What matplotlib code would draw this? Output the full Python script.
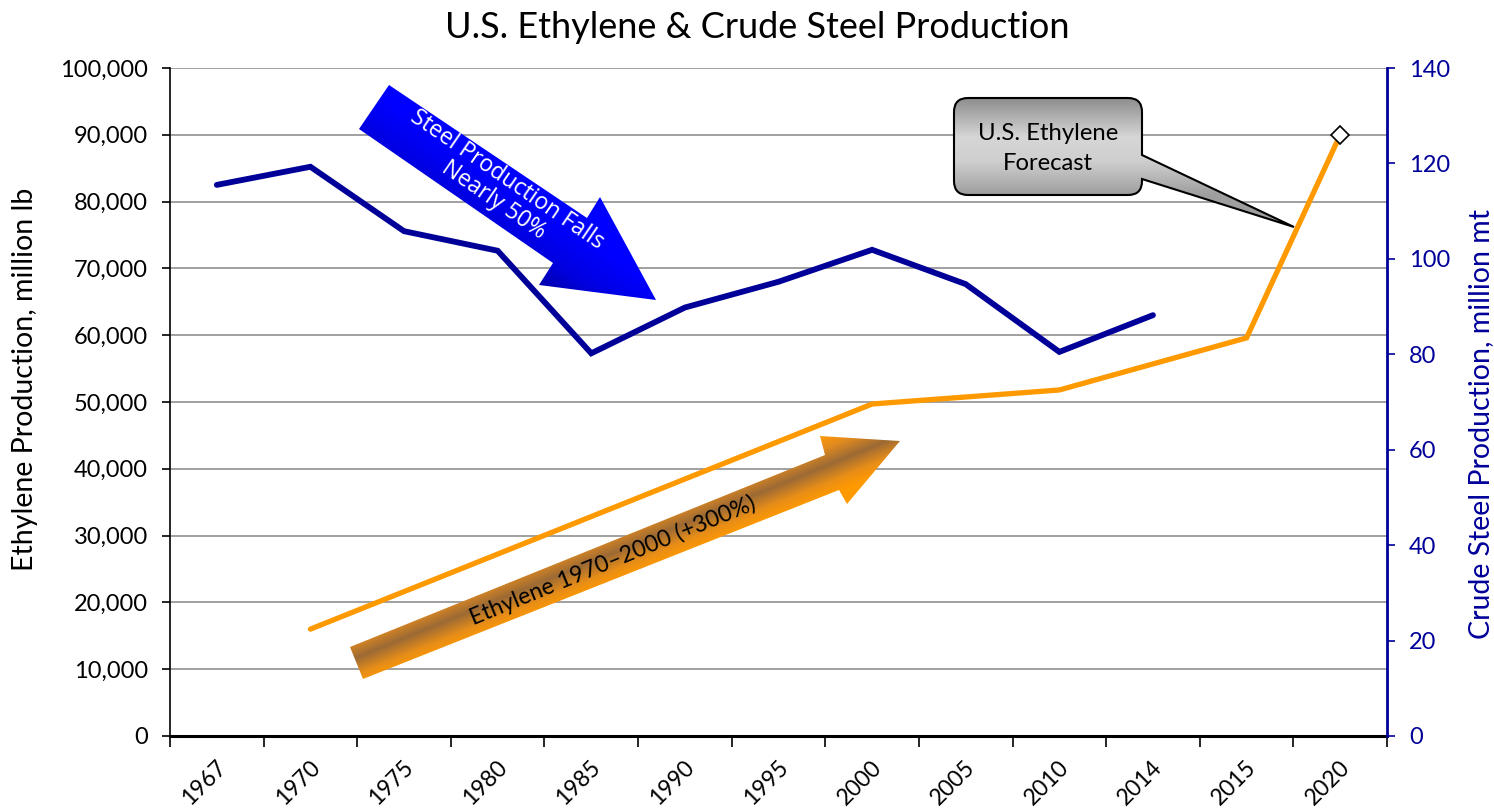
import numpy as np
import matplotlib
matplotlib.use("Agg")
import matplotlib.pyplot as plt
import matplotlib.transforms as mtransforms
from matplotlib.ticker import FuncFormatter, FixedLocator
from matplotlib.patches import Polygon, PathPatch
from matplotlib.path import Path
from matplotlib.colors import LinearSegmentedColormap

plt.rcParams['font.family'] = ['Lato', 'DejaVu Sans']

# ---------------- data ----------------
years = ['1967', '1970', '1975', '1980', '1985', '1990', '1995',
         '2000', '2005', '2010', '2014', '2015', '2020']
steel = [115.5, 119.3, 105.8, 101.7, 80.2, 89.8, 95.2,
         101.9, 94.7, 80.5, 88.2, np.nan, np.nan]          # million mt
ethylene = [np.nan, 16000, np.nan, np.nan, np.nan, np.nan, np.nan,
            49700, np.nan, 51800, np.nan, 59600, 90000]     # million lb
forecast_year = '2020'

NAVY = '#000099'
ORANGE = '#FF9900'

W, H = 1494, 808
fig = plt.figure(figsize=(W / 100, H / 100), dpi=100)
ax = fig.add_axes([170 / W, 1 - 736 / H, (1387 - 170) / W, (736 - 68) / H])
ax2 = ax.twinx()

x = np.arange(len(years))
eth = np.array(ethylene, dtype=float)
m = ~np.isnan(eth)
ax.plot(x[m], eth[m], color=ORANGE, lw=3.8, solid_capstyle='round',
        solid_joinstyle='miter', zorder=3)
fi = years.index(forecast_year)
ax.plot([x[fi]], [eth[fi]], marker='D', ms=9, mfc='white', mec='black',
        mew=1.2, zorder=4, linestyle='none')

st = np.array(steel, dtype=float)
ms = ~np.isnan(st)
ax2.plot(x[ms], st[ms], color=NAVY, lw=4.2, solid_capstyle='round',
         solid_joinstyle='miter', zorder=3)

# axes limits / ticks
ax.set_xlim(-0.5, len(years) - 0.5)
ax.set_ylim(0, 100000)
ax2.set_ylim(0, 140)
ax.set_yticks(np.arange(0, 100001, 10000))
ax.yaxis.set_major_formatter(FuncFormatter(lambda v, p: f"{int(v):,}"))
ax2.set_yticks(np.arange(0, 141, 20))

ax.xaxis.set_major_locator(FixedLocator(np.arange(-0.5, len(years), 1.0)))
ax.xaxis.set_minor_locator(FixedLocator(x))
ax.set_xticklabels([])
ax.set_xticklabels(years, minor=True)
ax.tick_params(axis='x', which='major', length=8, width=1.2, color='black')
ax.tick_params(axis='x', which='minor', length=0, pad=20, labelsize=16.5)
xoff = mtransforms.ScaledTranslation(6 / 100, 0, fig.dpi_scale_trans)
for lab in ax.get_xticklabels(minor=True):
    lab.set_rotation(45)
    lab.set_ha('right')
    lab.set_va('center')
    lab.set_rotation_mode('anchor')
    lab.set_transform(lab.get_transform() + xoff)

ax.tick_params(axis='y', length=6, width=1.2, labelsize=17, pad=10, color='black')
ax2.tick_params(axis='y', length=6, width=1.2, labelsize=17, pad=10,
                color=NAVY, labelcolor=NAVY)

ax.grid(axis='y', color='#999999', lw=1.3)
ax.set_axisbelow(True)
for s in ['top']:
    ax.spines[s].set_visible(False)
    ax2.spines[s].set_visible(False)
ax.spines['right'].set_visible(False)
ax2.spines['left'].set_visible(False)
ax2.spines['bottom'].set_visible(False)
ax.spines['left'].set_color('black')
ax.spines['left'].set_linewidth(1.2)
ax.spines['bottom'].set_color('black')
ax.spines['bottom'].set_linewidth(2.2)
ax2.spines['right'].set_color(NAVY)
ax2.spines['right'].set_linewidth(2.0)

ax.set_ylabel('Ethylene Production, million lb', fontsize=20.5)
ax2.set_ylabel('Crude Steel Production, million mt', fontsize=20.5, color=NAVY)
ax.yaxis.set_label_coords((38 - 170) / 1217, (736 - 379) / 668)
ax2.yaxis.set_label_coords((1468 - 170) / 1217, (736 - 424) / 668)
fig.text(757 / W, 1 - 27 / H, 'U.S. Ethylene & Crude Steel Production',
         ha='center', va='center', fontsize=26)

# ---------------- overlay annotations (pixel space) ----------------
ov = fig.add_axes([0, 0, 1, 1], zorder=10)
ov.set_xlim(0, W)
ov.set_ylim(H, 0)
ov.axis('off')
ov.patch.set_alpha(0)


def gradient_fill(path_or_verts, p0, p1, stops, zorder, edge=None, lw=0):
    if isinstance(path_or_verts, Path):
        patch = PathPatch(path_or_verts, facecolor='none',
                          edgecolor=edge if edge else 'none', lw=lw,
                          zorder=zorder + 0.1)
        verts = path_or_verts.vertices
    else:
        patch = Polygon(path_or_verts, closed=True, facecolor='none',
                        edgecolor=edge if edge else 'none', lw=lw,
                        zorder=zorder + 0.1)
        verts = np.array(path_or_verts)
    ov.add_patch(patch)
    x0, x1 = verts[:, 0].min() - 2, verts[:, 0].max() + 2
    y0, y1 = verts[:, 1].min() - 2, verts[:, 1].max() + 2
    nx, ny = int(x1 - x0) + 1, int(y1 - y0) + 1
    X, Y = np.meshgrid(np.linspace(x0, x1, nx), np.linspace(y0, y1, ny))
    d = np.array(p1, float) - np.array(p0, float)
    t = ((X - p0[0]) * d[0] + (Y - p0[1]) * d[1]) / (d @ d)
    t = np.clip(t, 0, 1)
    cmap = LinearSegmentedColormap.from_list('g', stops)
    im = ov.imshow(t, cmap=cmap, vmin=0, vmax=1, extent=(x0, x1, y1, y0),
                   origin='upper', zorder=zorder, interpolation='bilinear',
                   aspect='auto')
    im.set_clip_path(patch)
    return patch


# Blue arrow: steel falls
blue_verts = [(389, 85), (587, 218), (600, 197), (656, 300),
              (539, 285), (553, 263), (359, 129)]
n_b = np.array([-0.565, 0.825])
pb0 = np.array([600, 197]) - n_b * 40
pb1 = pb0 + n_b * 150
gradient_fill(blue_verts, pb0, pb1,
              [(0, '#0000FF'), (0.55, '#0000FF'), (0.8, '#0000E0'),
               (1, '#0000A8')], zorder=5)
ov.text(500, 190, 'Steel Production Falls\nNearly 50%', color='white',
        fontsize=16.5, rotation=-34.4, ha='center', va='center',
        rotation_mode='anchor', linespacing=1.0, zorder=7,
        family=['Open Sans', 'DejaVu Sans'])

# Orange arrow: ethylene growth
or_verts = [(350, 647), (825, 455), (820, 436), (900, 441),
            (847, 504), (839, 490), (363, 679)]
n_o = np.array([0.379, 0.925])
po0 = np.array([820, 436])
po1 = po0 + n_o * 74
gradient_fill(or_verts, po0, po1,
              [(0, '#FF9A05'), (0.18, '#E08A20'), (0.4, '#9C6A35'),
               (0.62, '#E88E18'), (0.78, '#FF9900'), (1, '#FF9900')],
              zorder=5)
ov.text(613, 561, 'Ethylene 1970–2000 (+300%)', color='black', fontsize=16.7,
        rotation=22.3, ha='center', va='center', rotation_mode='anchor',
        zorder=7)

# Callout box
bx0, bx1, by0, by1, r = 954, 1142, 98, 195, 14
tip = (1294, 227)
verts = [(bx0 + r, by0), (bx1 - r, by0), (bx1, by0), (bx1, by0 + r),
         (bx1, 155), tip, (bx1, 179), (bx1, by1 - r), (bx1, by1),
         (bx1 - r, by1), (bx0 + r, by1), (bx0, by1), (bx0, by1 - r),
         (bx0, by0 + r), (bx0, by0), (bx0 + r, by0), (bx0 + r, by0)]
codes = [Path.MOVETO, Path.LINETO, Path.CURVE3, Path.CURVE3,
         Path.LINETO, Path.LINETO, Path.LINETO, Path.LINETO, Path.CURVE3,
         Path.CURVE3, Path.LINETO, Path.CURVE3, Path.CURVE3, Path.LINETO,
         Path.CURVE3, Path.CURVE3, Path.CLOSEPOLY]
cpath = Path(verts, codes)
gradient_fill(cpath, (0, by0), (0, by1),
              [(0, '#8E8E8E'), (0.4, '#D6D6D6'), (0.65, '#CFCFCF'),
               (1, '#9E9E9E')], zorder=5, edge='black', lw=1.5)
ov.text((bx0 + bx1) / 2, 133, 'U.S. Ethylene', fontsize=17.2, ha='center',
        va='center', zorder=7)
ov.text((bx0 + bx1) / 2, 163, 'Forecast', fontsize=17.2, ha='center',
        va='center', zorder=7)

fig.savefig('out.png', dpi=100)
